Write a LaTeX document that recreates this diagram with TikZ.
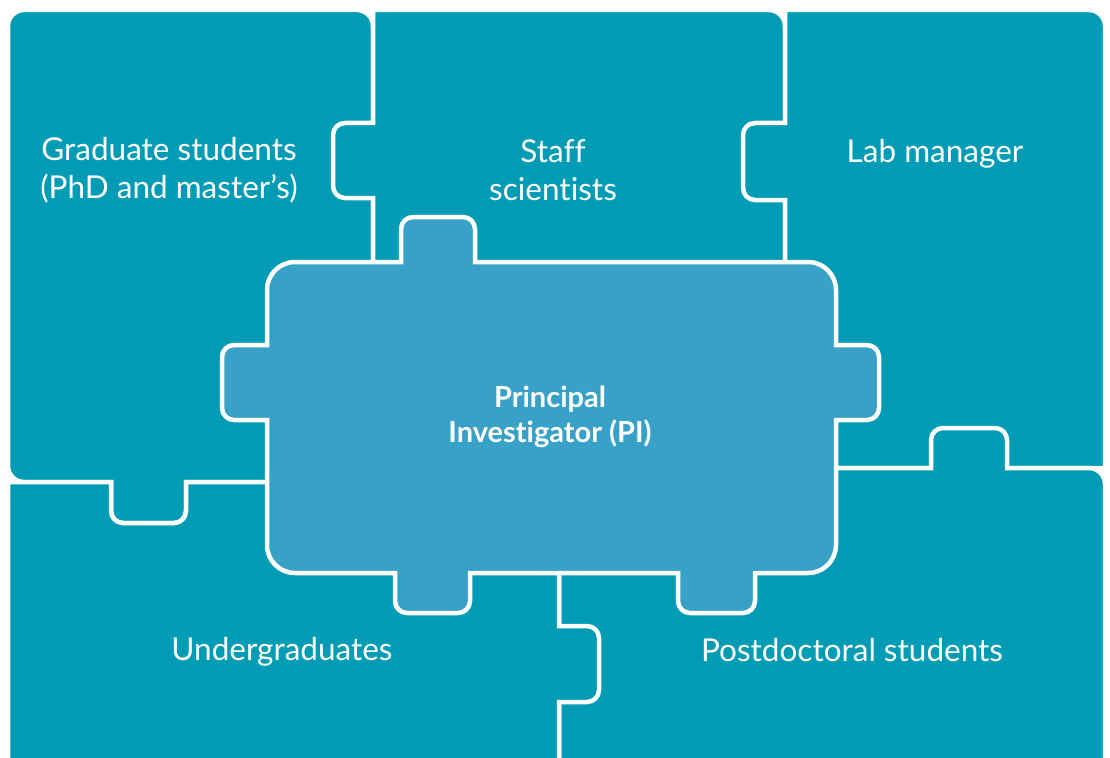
\documentclass[tikz,border=0pt]{standalone}
\usepackage{fontspec}
\setmainfont{Lato}[Ligatures={NoCommon}]
\definecolor{teal}{RGB}{0,155,181}
\definecolor{pilight}{RGB}{56,161,199}
\tikzset{
  piece/.style={fill=teal, draw=white, line width=4.5pt, line join=miter},
  center/.style={fill=pilight, draw=white, line width=4.5pt, line join=miter},
  lbl/.style={text=white, font=\fontsize{31.5}{38}\selectfont, anchor=base, inner sep=0pt},
  pilbl/.style={text=white, font=\fontsize{29}{34}\selectfont\bfseries, anchor=base, inner sep=0pt}
}
\begin{document}
\begin{tikzpicture}[x=1pt, y=-1pt]
\useasboundingbox (0,0) rectangle (1110,757);
\clip (0,0) rectangle (1110,757);
\fill[white] (0,0) rectangle (1110,757);

% Graduate students
\path[piece] (8,26) .. controls +(0,-8.8) and +(-8.8,0) .. (24,10)
  -- (357,10) .. controls +(8.8,0) and +(0,-8.8) .. (373,26)
  -- (373,482) -- (186,482) -- (186,511) .. controls +(0,6.6) and +(6.6,0) .. (174,523)
  -- (123,523) .. controls +(-6.6,0) and +(0,6.6) .. (111,511)
  -- (111,482) -- (24,482) .. controls +(-8.8,0) and +(0,8.8) .. (8,466) -- cycle;

% Staff scientists
\path[piece] (373,10) -- (769,10) .. controls +(8.8,0) and +(0,-8.8) .. (785,26)
  -- (785,300) -- (373,300) -- (373,198) -- (345,198) .. controls +(-6.6,0) and +(0,6.6) .. (333,186)
  -- (333,135) .. controls +(0,-6.6) and +(-6.6,0) .. (345,123)
  -- (373,123) -- cycle;

% Lab manager
\path[piece] (785,10) -- (1089,10) .. controls +(8.8,0) and +(0,-8.8) .. (1105,26)
  -- (1105,468) -- (820,468) -- (820,280) -- (785,280) -- (785,200)
  -- (755,200) .. controls +(-6.6,0) and +(0,6.6) .. (743,188)
  -- (743,135) .. controls +(0,-6.6) and +(-6.6,0) .. (755,123)
  -- (785,123) -- cycle;

% Postdoctoral students
\path[piece] (559,468) -- (931,468) -- (931,440) .. controls +(0,-6.6) and +(-6.6,0) .. (943,428)
  -- (995,428) .. controls +(6.6,0) and +(0,-6.6) .. (1007,440)
  -- (1007,468) -- (1089,468) .. controls +(8.8,0) and +(0,-8.8) .. (1105,484)
  -- (1105,790) -- (559,790) -- cycle;

% Undergraduates
\path[piece] (8,482) -- (111,482) -- (111,511) .. controls +(0,6.6) and +(-6.6,0) .. (123,523)
  -- (174,523) .. controls +(6.6,0) and +(0,6.6) .. (186,511)
  -- (186,482) -- (559,482) -- (559,626) -- (587,626) .. controls +(6.6,0) and +(0,-6.6) .. (599,638)
  -- (599,690) .. controls +(0,6.6) and +(6.6,0) .. (587,702)
  -- (559,702) -- (559,790) -- (8,790) -- cycle;

% Principal Investigator
\path[center] (267,290) .. controls +(0,-15.5) and +(-15.5,0) .. (295,262)
  -- (401,262) -- (401,229) .. controls +(0,-6.6) and +(-6.6,0) .. (413,217)
  -- (463,217) .. controls +(6.6,0) and +(0,-6.6) .. (475,229)
  -- (475,262) -- (808,262) .. controls +(15.5,0) and +(0,-15.5) .. (836,290)
  -- (836,345) -- (867,345) .. controls +(6.6,0) and +(0,-6.6) .. (879,357)
  -- (879,408) .. controls +(0,6.6) and +(6.6,0) .. (867,420)
  -- (836,420) -- (836,545) .. controls +(0,15.5) and +(15.5,0) .. (808,573)
  -- (755,573) -- (755,601) .. controls +(0,6.6) and +(6.6,0) .. (743,613)
  -- (690,613) .. controls +(-6.6,0) and +(0,6.6) .. (678,601)
  -- (678,573) -- (470,573) -- (470,601) .. controls +(0,6.6) and +(6.6,0) .. (458,613)
  -- (407,613) .. controls +(-6.6,0) and +(0,6.6) .. (395,601)
  -- (395,573) -- (295,573) .. controls +(-15.5,0) and +(0,15.5) .. (267,545)
  -- (267,420) -- (234,420) .. controls +(-6.6,0) and +(0,6.6) .. (222,408)
  -- (222,357) .. controls +(0,-6.6) and +(-6.6,0) .. (234,345)
  -- (267,345) -- cycle;

% Labels
\node[lbl] (gs1) at (169,160) {Graduate students};
\node[lbl] (gs2) at (169,198) {(PhD and master’s)};
\node[lbl] (st1) at (553,162) {Staff};
\node[lbl] (st2) at (553,200) {scientists};
\node[lbl] (lm) at (935,162) {Lab manager};
\node[pilbl] (pi1) at (550,407) {Principal};
\node[pilbl] (pi2) at (550,442) {Investigator (PI)};
\node[lbl] (ug) at (282,660) {Undergraduates};
\node[lbl] (pd) at (852,661) {Postdoctoral students};
\end{tikzpicture}
\end{document}
